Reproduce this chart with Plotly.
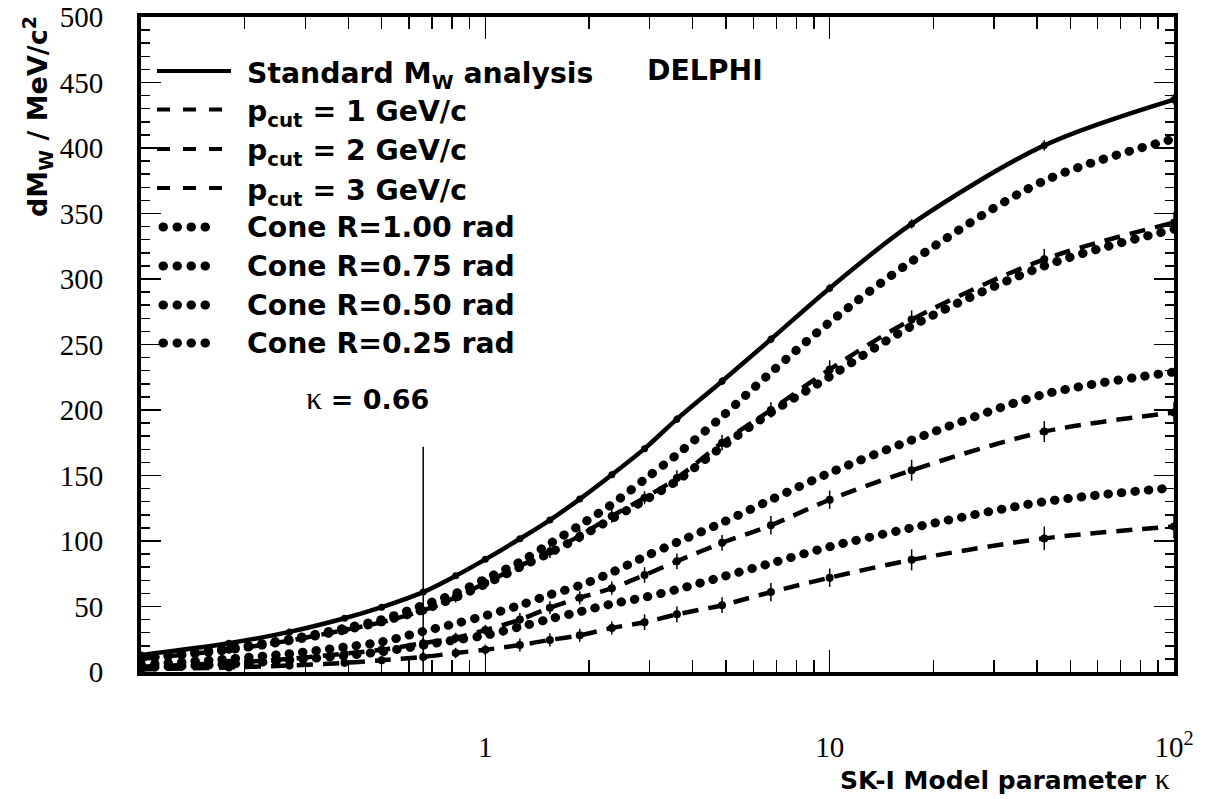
import plotly.graph_objects as go

# ---------------- data ----------------
kappa = [0.1, 0.18, 0.27, 0.39, 0.5, 0.66, 0.82, 1.0, 1.26, 1.54, 1.88, 2.33,
         2.9, 3.6, 4.87, 6.75, 10, 17.3, 42, 100]
std = [13, 22, 30.6, 41, 49.5, 61, 73.4, 86, 101.7, 116, 132, 150.6,
       170.5, 193, 222, 254, 293, 342, 402, 437]
std_err = [1, 1, 1, 1.5, 1.5, 2, 2, 2, 2, 2, 2, 2.5, 2.5, 3, 3, 3, 3, 3.5, 4, 4]
pcut1 = [10, 17, 24, 32, 38, 47, 57, 68, 81, 92, 104, 119, 133, 148, 175, 200,
         231, 269, 315, 343]
pcut1_err = [2, 2, 3, 3, 3, 4, 4, 4, 4, 5, 5, 5, 5, 6, 6, 6, 7, 7, 8, 8]
pcut2 = [4, 7, 10, 14, 17, 22, 26, 32, 40, 49, 56.6, 64, 74, 84.5, 98.6, 112,
         131.5, 154, 183.5, 198]
pcut2_err = [2, 2, 3, 3, 3, 4, 4, 4, 5, 5, 5, 5, 6, 6, 6, 7, 7, 8, 8, 8]
pcut3 = [2, 3.5, 5, 7, 9, 11.5, 14.5, 17, 20.6, 24.5, 28, 33.6, 38, 44, 51, 61,
         72, 85.6, 102, 111]
pcut3_err = [2, 2, 3, 3, 3, 4, 4, 4, 5, 5, 5, 5, 6, 6, 6, 7, 7, 8, 9, 9]
cone100 = [10.5, 18, 25, 33.5, 40, 51, 60, 71, 84, 98, 112, 128, 147, 166, 195,
           228.6, 267, 313.5, 375, 407]
cone075 = [10, 17, 24, 32, 38.5, 47.5, 57, 67, 80, 91, 103, 117, 131, 146, 172,
           198, 225.5, 264, 310, 338]
cone050 = [5.5, 10, 14, 19, 23, 31, 37, 43, 51, 59, 66, 76, 88, 99, 114, 131.5,
           152, 177, 212, 229]
cone025 = [3.5, 6, 9, 12.5, 15.5, 20.5, 24.5, 28, 34.5, 40.5, 46, 52, 57, 63,
           72.6, 83, 95.6, 110, 130, 140.6]

kappa_line = [0.66, 0.66]
kappa_line_y = [0, 172]

legend_labels = [
    "<b>Standard M<sub>W</sub> analysis</b>",
    "<b>p<sub>cut</sub> = 1 GeV/c</b>",
    "<b>p<sub>cut</sub> = 2 GeV/c</b>",
    "<b>p<sub>cut</sub> = 3 GeV/c</b>",
    "<b>Cone R=1.00 rad</b>",
    "<b>Cone R=0.75 rad</b>",
    "<b>Cone R=0.50 rad</b>",
    "<b>Cone R=0.25 rad</b>",
]
x_tickvals = [1, 10, 100]
x_ticktext = ["1", "10", "10<sup>2</sup>"]
x_minor = [0.2, 0.3, 0.4, 0.5, 0.6, 0.7, 0.8, 0.9,
           2, 3, 4, 5, 6, 7, 8, 9, 20, 30, 40, 50, 60, 70, 80, 90]

# ---------------- geometry helpers ----------------
W, H = 1211, 799
ML, MR, MT, MB = 141, 37, 17, 127
PW, PH = W - ML - MR, H - MT - MB


def px(x):
    return (x - ML) / PW


def py(y):
    return (H - MB - y) / PH


SANS = "DejaVu Sans, Liberation Sans, sans-serif"
SERIF = "Liberation Serif, Times New Roman, serif"
DOT = "0.5px,13px"
DASH = "16px,10px"
SMOOTH = 0.9

fig = go.Figure()

dashed = [(pcut1, pcut1_err), (pcut2, pcut2_err), (pcut3, pcut3_err)]
for vals, err in dashed:
    fig.add_trace(go.Scatter(
        x=kappa, y=vals, mode="lines+markers",
        line=dict(color="black", width=4.5, dash=DASH, shape="spline", smoothing=SMOOTH),
        marker=dict(color="black", size=8),
        error_y=dict(type="data", array=err, color="black", thickness=1.5, width=0),
        showlegend=False, hoverinfo="skip"))

for vals in [cone100, cone075, cone050, cone025]:
    fig.add_trace(go.Scatter(
        x=kappa, y=vals, mode="lines",
        line=dict(color="black", width=9, dash=DOT, shape="spline", smoothing=SMOOTH),
        showlegend=False, hoverinfo="skip"))

fig.add_trace(go.Scatter(
    x=kappa, y=std, mode="lines+markers",
    line=dict(color="black", width=4.5, shape="spline", smoothing=SMOOTH),
    marker=dict(color="black", size=7),
    error_y=dict(type="data", array=std_err, color="black", thickness=1.5, width=0),
    showlegend=False, hoverinfo="skip"))

fig.add_trace(go.Scatter(
    x=kappa_line, y=kappa_line_y, mode="lines",
    line=dict(color="black", width=1.5),
    showlegend=False, hoverinfo="skip"))

# ---------------- hand-built legend ----------------
leg_y = [71, 109.5, 149, 188, 227, 266, 305, 343]
styles = ["solid", "dash", "dash", "dash", "dot", "dot", "dot", "dot"]
shapes = []
annotations = []
for yy, st, lab in zip(leg_y, styles, legend_labels):
    if st == "solid":
        shapes.append(dict(type="line", xref="paper", yref="paper",
                           x0=px(157), x1=px(231), y0=py(yy), y1=py(yy),
                           line=dict(color="black", width=4)))
    elif st == "dash":
        shapes.append(dict(type="line", xref="paper", yref="paper",
                           x0=px(157), x1=px(222), y0=py(yy), y1=py(yy),
                           line=dict(color="black", width=4, dash="13px,13px")))
    else:
        shapes.append(dict(type="line", xref="paper", yref="paper",
                           x0=px(163), x1=px(219), y0=py(yy), y1=py(yy),
                           line=dict(color="black", width=9, dash="0.5px,13.5px")))
    off = 4 if "sub" in lab else 0
    annotations.append(dict(xref="paper", yref="paper", x=px(245), y=py(yy + off),
                            xanchor="left", yanchor="middle", text=lab, showarrow=False,
                            font=dict(family=SANS, size=28.3, color="black")))

annotations.append(dict(xref="paper", yref="paper", x=px(645), y=py(71),
                        xanchor="left", yanchor="middle", text="<b>DELPHI</b>",
                        showarrow=False, font=dict(family=SANS, size=28.3, color="black")))
annotations.append(dict(xref="paper", yref="paper", x=px(304), y=py(398),
                        xanchor="left", yanchor="middle",
                        text="<span style='font-family:Liberation Serif;font-size:32px'>κ</span> <b>= 0.66</b>",
                        showarrow=False, font=dict(family=SANS, size=27, color="black")))
annotations.append(dict(xref="paper", yref="paper", x=px(1172), y=py(778),
                        xanchor="right", yanchor="middle",
                        text="<b>SK-I Model parameter </b><span style='font-family:Liberation Serif;font-size:30px'>κ</span>",
                        showarrow=False, font=dict(family=SANS, size=25, color="black")))
annotations.append(dict(xref="paper", yref="paper", x=px(37), y=py(117),
                        xanchor="center", yanchor="middle", textangle=-90,
                        text="<b>dM<sub>W</sub> / MeV/c<sup>2</sup></b>",
                        showarrow=False, font=dict(family=SANS, size=27, color="black")))

fig.update_layout(
    width=W, height=H,
    margin=dict(l=ML, r=MR, t=MT, b=MB, autoexpand=False),
    paper_bgcolor="white", plot_bgcolor="white",
    shapes=shapes, annotations=annotations,
    showlegend=False,
    xaxis=dict(type="log", range=[-1, 2], tickvals=x_tickvals, ticktext=x_ticktext,
               ticks="inside", ticklen=22, tickwidth=1.5, tickcolor="black",
               minor=dict(tickvals=x_minor, ticks="inside", ticklen=12, tickwidth=1.5,
                          tickcolor="black", showgrid=False),
               showline=True, linewidth=4, linecolor="black", mirror="ticks",
               showgrid=False, zeroline=False, ticklabelstandoff=46, automargin=False,
               tickfont=dict(family=SERIF, size=29, color="black")),
    yaxis=dict(range=[0, 500], dtick=50, tick0=0,
               ticks="inside", ticklen=20, tickwidth=1.5, tickcolor="black",
               minor=dict(dtick=10, ticks="inside", ticklen=9, tickwidth=1.5,
                          tickcolor="black", showgrid=False),
               showline=True, linewidth=4, linecolor="black", mirror="ticks",
               showgrid=False, zeroline=False, ticklabelstandoff=28, automargin=False,
               tickfont=dict(family=SERIF, size=29, color="black")),
)

post = """
document.body.style.margin = '0';
document.body.style.padding = '0';
var gd = document.getElementById('{plot_id}');
function rnd(){
  gd.querySelectorAll('path').forEach(function(p){
    var d = p.style.strokeDasharray || '';
    if (d.indexOf('0.5px') === 0) { p.style.strokeLinecap = 'round'; }
  });
}
rnd();
if (gd.on) { gd.on('plotly_afterplot', rnd); }
"""

fig.write_html("out.html", post_script=post,
               config={"displayModeBar": False, "staticPlot": True})
